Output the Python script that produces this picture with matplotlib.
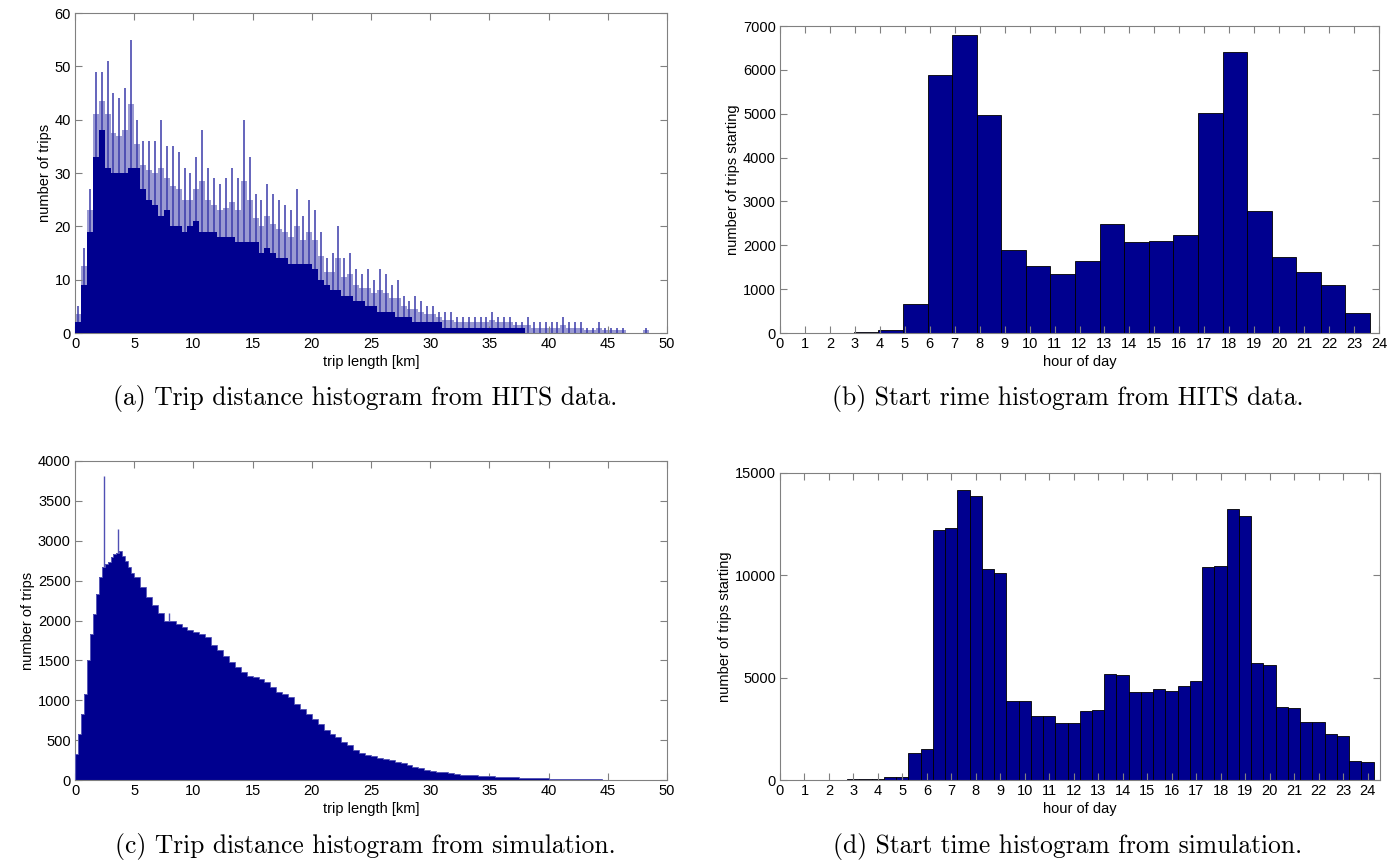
import matplotlib
matplotlib.use("Agg")
import matplotlib.pyplot as plt
import numpy as np

# (a) HITS trip distance, 0.5 km bins: spike tops and solid base
hits_dist_peak = [5, 16, 27, 49, 49, 51, 45, 44, 46, 55,
                  40, 36, 36, 36, 40, 35, 35, 34, 31, 30,
                  33, 38, 31, 29, 28, 29, 31, 29, 40, 33,
                  26, 25, 28, 26, 25, 24, 23, 27, 22, 25,
                  23, 19, 14, 15, 20, 14, 15, 12, 11, 12,
                  10, 12, 11, 9, 10, 7, 6, 7, 6, 5,
                  5, 4, 4, 4, 3, 3, 3, 3, 3, 3,
                  4, 3, 3, 3, 2, 2, 3, 2, 2, 2,
                  2, 2, 3, 2, 2, 2, 1, 1, 2, 1,
                  1, 1, 1, 0, 0, 0, 1, 0, 0, 0]
hits_dist_base = [2, 9, 19, 33, 38, 31, 30, 30, 30, 31,
                  31, 27, 25, 24, 22, 23, 20, 20, 19, 20,
                  21, 19, 19, 19, 18, 18, 18, 17, 17, 17,
                  17, 15, 16, 15, 14, 14, 13, 13, 13, 13,
                  12, 10, 9, 8, 8, 7, 7, 6, 6, 5,
                  5, 4, 4, 4, 3, 3, 3, 2, 2, 2,
                  2, 2, 1, 1, 1, 1, 1, 1, 1, 1,
                  1, 1, 1, 1, 1, 1, 0, 0, 0, 0,
                  0, 0, 0, 0, 0, 0, 0, 0, 0, 0,
                  0, 0, 0, 0, 0, 0, 0, 0, 0, 0]

# (b) HITS start time, 24 bins
hits_hour_counts = [0, 10, 0, 15, 76, 654, 5880, 6787, 4960, 1900,
                    1530, 1347, 1643, 2488, 2077, 2108, 2230, 5022, 6407, 2777,
                    1742, 1400, 1088, 457]

# (c) simulated trip distance: 0.25 km bins up to 5 km, then 0.5 km bins
sim_dist_near = [330, 580, 830, 1080, 1500, 1830, 2080, 2330, 2540, 2670,
                 2710, 2730, 2790, 2830, 2850, 2870, 2810, 2750, 2670, 2600]
sim_dist_far = [2540, 2420, 2290, 2190, 2100, 2000, 1990, 1960, 1920, 1875,
                1855, 1830, 1790, 1690, 1625, 1560, 1480, 1415, 1355, 1310,
                1290, 1270, 1230, 1167, 1104, 1083, 1040, 958, 896, 833,
                770, 708, 625, 583, 540, 480, 437, 375, 333, 312,
                300, 280, 265, 245, 228, 208, 190, 168, 146, 130,
                117, 106, 96, 85, 75, 68, 62, 58, 54, 50,
                46, 41, 37, 35, 33, 29, 25, 23, 21, 19,
                17, 15, 13, 11, 10, 9, 8, 7, 7, 6,
                5, 5, 4, 4, 3, 3, 3, 2, 2, 2]
sim_spike_km = [2.45, 3.65, 7.95]
sim_spike_val = [3810, 3145, 2100]

# (d) simulated start time, 48 half-hour bins
sim_hour_counts = [5, 5, 5, 5, 20, 25, 40, 30, 150, 160,
                   1340, 1520, 12230, 12290, 14150, 13900, 10300, 10110, 3880, 3880,
                   3150, 3130, 2800, 2790, 3375, 3420, 5200, 5120, 4320, 4320,
                   4430, 4370, 4610, 4830, 10420, 10470, 13240, 12880, 5740, 5610,
                   3570, 3520, 2850, 2820, 2250, 2170, 950, 900]

captions = ["(a) Trip distance histogram from HITS data.",
            "(b) Start rime histogram from HITS data.",
            "(c) Trip distance histogram from simulation.",
            "(d) Start time histogram from simulation."]

navy = "#00008f"
light = "#9a9ad2"
spike = "#3a3aaa"
gray = "#808080"

plt.rcParams["font.family"] = ["Liberation Sans", "DejaVu Sans"]

fig = plt.figure(figsize=(13.95, 8.64), dpi=100)
W, H = 1395, 864


def box(l, t, r, b):
    return [l / W, 1 - b / H, (r - l) / W, (b - t) / H]


ax_a = fig.add_axes(box(75, 13, 667, 333))
ax_b = fig.add_axes(box(780, 26, 1379, 333))
ax_c = fig.add_axes(box(75, 461, 667, 780))
ax_d = fig.add_axes(box(780, 473, 1380, 780))

# (a) spikes: thin lines to the tops, a lighter band halfway, solid base
edges_a = np.arange(len(hits_dist_peak) + 1) * 0.5
centers_a = edges_a[:-1] + 0.25
mid_a = (np.array(hits_dist_peak) + np.array(hits_dist_base)) / 2
ax_a.stairs(mid_a, edges_a, fill=True, color=light, linewidth=0, zorder=1)
ax_a.vlines(centers_a, 0, hits_dist_peak, color=spike, linewidth=1.1, zorder=2)
ax_a.stairs(hits_dist_base, edges_a, fill=True, color=navy, linewidth=0, zorder=3)
ax_a.set_xlim(0, 50)
ax_a.set_ylim(0, 60)
ax_a.set_xticks(range(0, 51, 5))
ax_a.set_yticks(range(0, 61, 10))
ax_a.set_xlabel("trip length [km]")
ax_a.set_ylabel("number of trips")

# (b)
edges_b = np.linspace(0, 23.64, len(hits_hour_counts) + 1)
ax_b.bar(edges_b[:-1], hits_hour_counts, width=np.diff(edges_b), align="edge",
         color=navy, edgecolor="black", linewidth=0.6)
ax_b.set_xlim(0, 24)
ax_b.set_ylim(0, 7000)
ax_b.set_xticks(range(0, 25))
ax_b.set_yticks(range(0, 7001, 1000))
ax_b.set_xlabel("hour of day")
ax_b.set_ylabel("number of trips starting")

# (c)
edges_c = np.concatenate([np.arange(len(sim_dist_near)) * 0.25,
                          5 + np.arange(len(sim_dist_far) + 1) * 0.5])
sim_dist = sim_dist_near + sim_dist_far
ax_c.vlines(sim_spike_km, 0, sim_spike_val, color="#5050b4", linewidth=1.0, zorder=1)
ax_c.stairs(sim_dist, edges_c, fill=True, color=navy, linewidth=0, zorder=2)
ax_c.stairs(sim_dist, edges_c, color="#5a5ab8", linewidth=0.7, zorder=3)
ax_c.set_xlim(0, 50)
ax_c.set_ylim(0, 4000)
ax_c.set_xticks(range(0, 51, 5))
ax_c.set_yticks(range(0, 4001, 500))
ax_c.set_xlabel("trip length [km]")
ax_c.set_ylabel("number of trips")

# (d)
edges_d = 0.24 + np.arange(len(sim_hour_counts) + 1) * 0.5
ax_d.bar(edges_d[:-1], sim_hour_counts, width=np.diff(edges_d), align="edge",
         color=navy, edgecolor="black", linewidth=0.6)
ax_d.set_xlim(0, 24.5)
ax_d.set_ylim(0, 15000)
ax_d.set_xticks(range(0, 25))
ax_d.set_yticks(range(0, 15001, 5000))
ax_d.set_xlabel("hour of day")
ax_d.set_ylabel("number of trips starting")

for ax in [ax_a, ax_b, ax_c, ax_d]:
    ax.tick_params(direction="in", top=True, right=True, length=5, width=0.8,
                   color=gray, labelsize=10.5, pad=3)
    ax.xaxis.label.set_size(10.5)
    ax.yaxis.label.set_size(10.5)
    ax.xaxis.labelpad = 3
    ax.yaxis.labelpad = 2
    for s in ax.spines.values():
        s.set_color(gray)
        s.set_linewidth(0.8)

cap_pos = [(365, 399), (1068, 399), (365, 846), (1068, 846)]
for txt, (cx, cy) in zip(captions, cap_pos):
    fig.text(cx / W, 1 - cy / H, txt, ha="center", va="center",
             family="cmr10", fontsize=18.4)

fig.savefig("out.png", dpi=100)
